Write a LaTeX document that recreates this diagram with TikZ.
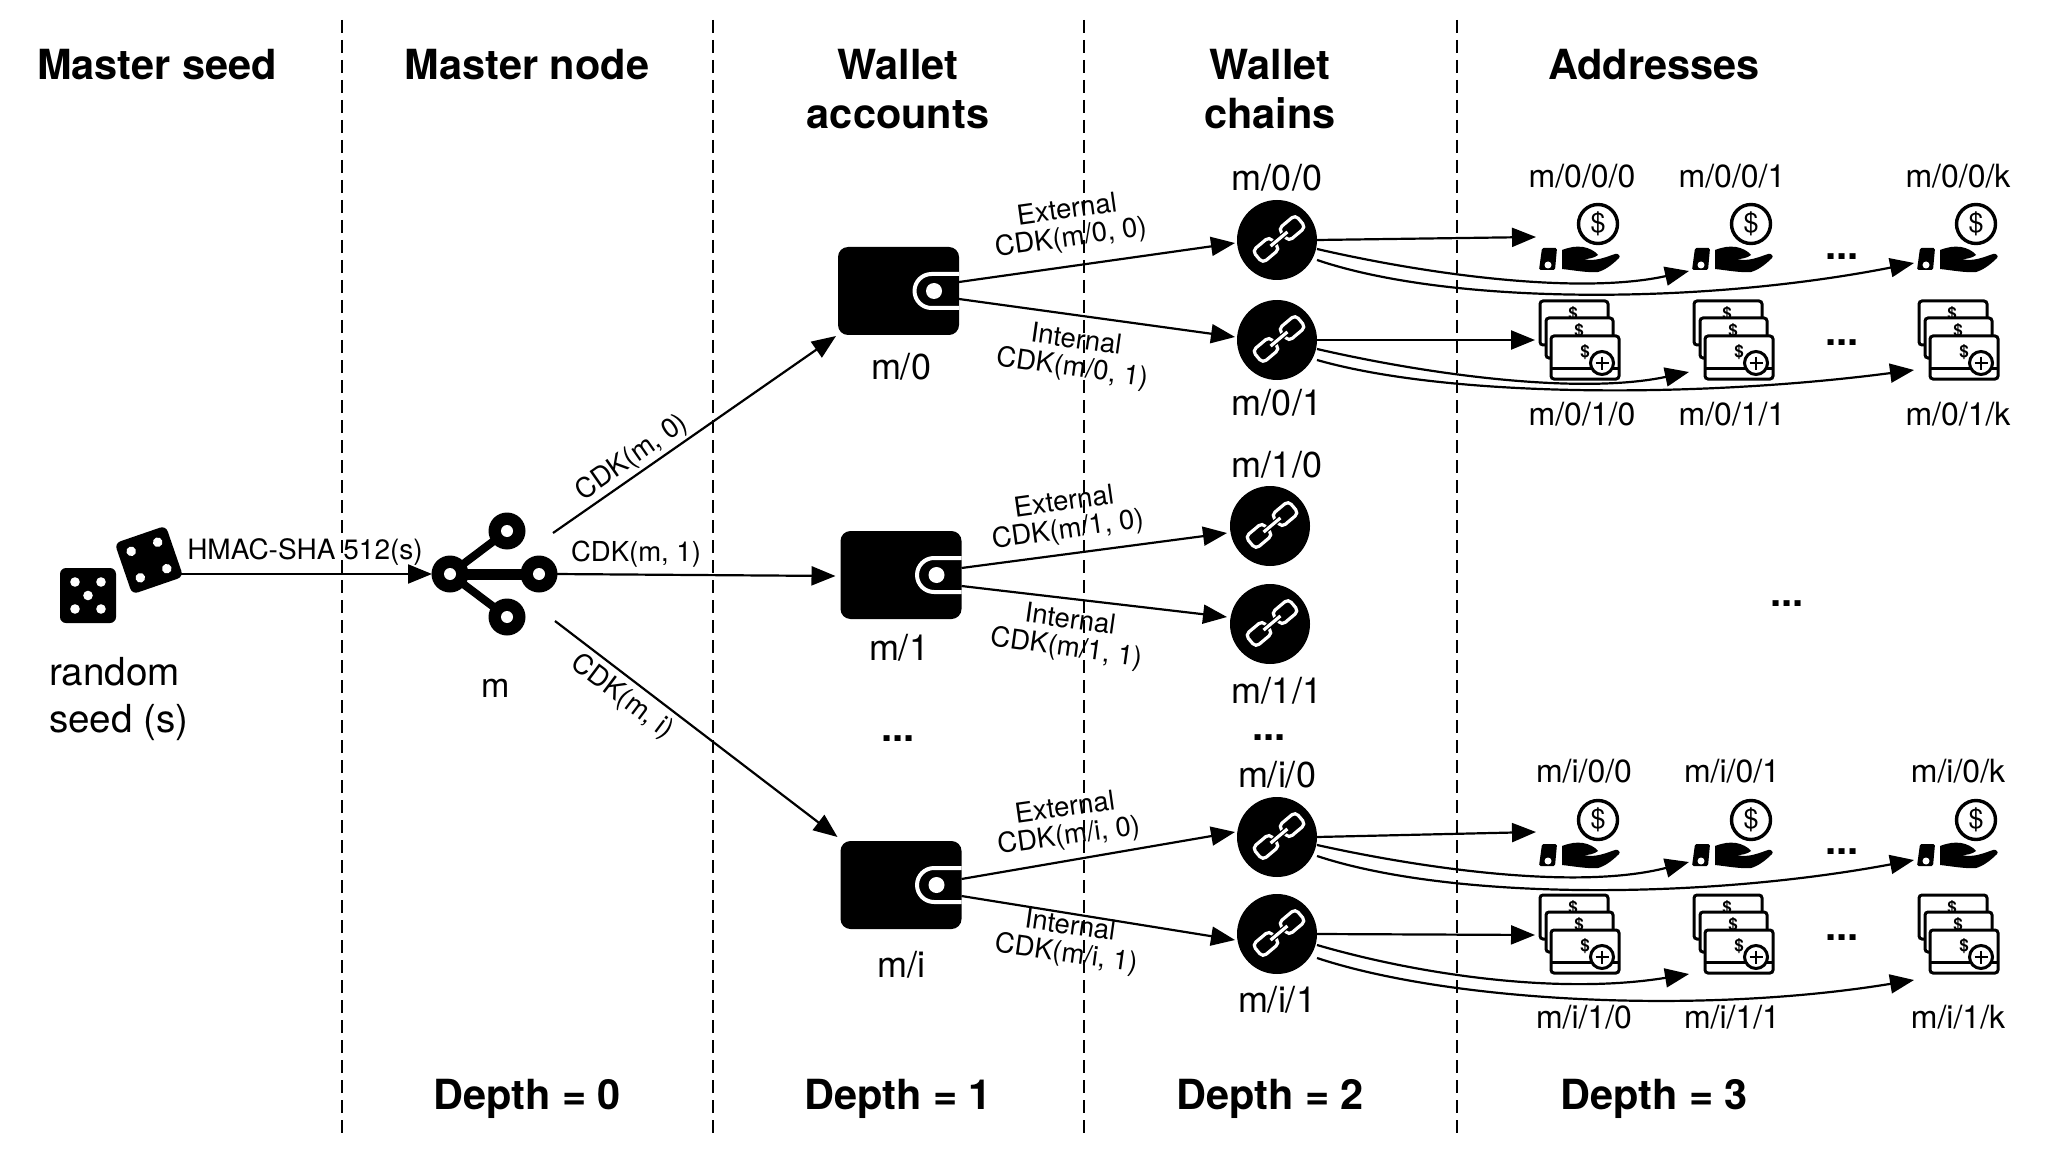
\documentclass[tikz,border=0pt]{standalone}
\usepackage{fontspec}
\setmainfont{TeX Gyre Heros}
\usetikzlibrary{arrows.meta}
\tikzset{
  x=1pt, y=-1pt,
  every node/.style={inner sep=0pt, outer sep=0pt},
  head/.style={font=\bfseries\fontsize{41.5}{49}\selectfont, align=center},
  big/.style={font=\fontsize{36}{47}\selectfont, align=left},
  addr/.style={font=\fontsize{32}{37}\selectfont},
  small/.style={font=\fontsize{27.5}{28}\selectfont, align=center},
  hmac/.style={font=\fontsize{28}{34}\selectfont},
  more/.style={font=\bfseries\fontsize{40}{40}\selectfont},
  divider/.style={line width=2.2pt, dash pattern=on 13pt off 7pt},
  conn/.style={line width=2.2pt, -{Triangle[length=24pt,width=19pt]}},
  chainnode/.style={circle, fill=black, minimum size=80pt},
  walletnode/.style={rectangle, minimum width=121pt, minimum height=88pt},
  handbox/.style={rectangle, minimum width=88pt, minimum height=70pt},
  billbox/.style={rectangle, minimum width=88pt, minimum height=80pt},
  linkicon/.pic={
    \begin{scope}[shift={(2,-1)}, rotate=40, line width=3.2pt, draw=white, rounded corners=4.5pt]
      \draw (-6,-3) -- (-6,-8) -- (-28,-8) -- (-28,8) -- (-6,8) -- (-6,3);
      \draw (6,-3) -- (6,-8) -- (28,-8) -- (28,8) -- (6,8) -- (6,3);
      \draw[rounded corners=0pt] (-11,0) -- (11,0);
    \end{scope}
  },
  walleticon/.pic={
    \fill[rounded corners=10pt] (-60.5,-44) rectangle (60.5,44);
    \draw[white, line width=4pt, rounded corners=17pt] (60.5,-17) -- (16,-17) -- (16,17) -- (60.5,17);
    \fill[white] (35.5,0) circle (8);
  },
  handicon/.pic={
    \draw[line width=3.4pt] (18,-13) circle (19.5);
    \node[font=\fontsize{27}{27}\selectfont] (-d) at (18,-13) {\$};
    \fill[rounded corners=1.5pt] (-38,11) -- (-23,11) -- (-25,33) -- (-41,33) -- cycle;
    \fill[white] (-32,28) circle (3.5);
    \fill (-18,13) .. controls (-10,10) and (-4,9) .. (3,10)
      .. controls (9,11) and (15,14) .. (18,18)
      .. controls (14,21) and (9,22) .. (4,22)
      .. controls (15,25) and (26,20) .. (35,17)
      .. controls (38,16) and (41,19) .. (39,21)
      .. controls (32,28) and (25,33) .. (18,35)
      .. controls (8,36) and (-8,33) .. (-18,32) -- cycle;
  },
  billicon/.pic={
    \begin{scope}[line width=3pt, fill=white, draw=black]
      \filldraw[rounded corners=3pt] (-39,-39) rectangle (29,5);
      \node[font=\bfseries\fontsize{17}{17}\selectfont] (-a) at (-6,-26) {\$};
      \filldraw[rounded corners=3pt] (-33,-22) rectangle (34,18);
      \node[font=\bfseries\fontsize{17}{17}\selectfont] (-b) at (0,-9) {\$};
      \filldraw[rounded corners=3pt] (-28,-4) rectangle (40,39);
      \draw (-28,28) -- (40,28);
      \node[font=\bfseries\fontsize{17}{17}\selectfont] (-c) at (6,12) {\$};
      \filldraw (23,23) circle (11.5);
      \draw[line width=2.6pt] (16.5,23) -- (29.5,23) (23,16.5) -- (23,29.5);
    \end{scope}
  },
  hubicon/.pic={
    \draw[line width=11pt] (450,574) -- (539,574);
    \draw[line width=8pt] (507,531) -- (450,574) -- (507,617);
    \foreach \cx/\cy in {450/574,539/574,507/531,507/617}{
      \fill (\cx,\cy) circle (18.5);
      \fill[white] (\cx,\cy) circle (6);
    }
  },
  diceicon/.pic={
    \fill[rounded corners=6pt] (60,568) rectangle (116,623);
    \foreach \px/\py in {75/582,101/582,88/595.5,75/609,101/609}
      \fill[white] (\px,\py) circle (4.8);
    \begin{scope}[shift={(149,560)}, rotate=19]
      \fill[rounded corners=6pt] (-27,-27) rectangle (27,27);
      \foreach \px/\py in {-14/-14,14/-14,-14/14,14/14}
        \fill[white] (\px,\py) circle (4.8);
    \end{scope}
  }
}
\begin{document}
\begin{tikzpicture}
\useasboundingbox[fill=white] (0,0) rectangle (2047,1155);

% column dividers
\foreach \n/\x in {d1/342,d2/713,d3/1084,d4/1457}{
  \coordinate (\n t) at (\x,20);
  \coordinate (\n b) at (\x,1133);
  \draw[divider] (\n t) -- (\n b);
}

% column headings
\node[head] (hseed) at (157,65) {Master seed};
\node[head] (hnode) at (527,65) {Master node};
\node[head] (hacc) at (898,89) {Wallet\\accounts};
\node[head] (hchain) at (1270,89) {Wallet\\chains};
\node[head] (haddr) at (1654,65) {Addresses};

% depth captions
\node[head] (depth0) at (527,1099) {Depth = 0};
\node[head] (depth1) at (898,1099) {Depth = 1};
\node[head] (depth2) at (1270,1099) {Depth = 2};
\node[head] (depth3) at (1654,1099) {Depth = 3};

% seed and master node
\node[rectangle, minimum width=122pt, minimum height=100pt] (seed) at (120,574) {};
\pic (dice) at (0,0) {diceicon};
\node[rectangle, minimum width=122pt, minimum height=90pt] (master) at (493,574) {};
\pic (hub) at (0,0) {hubicon};
\node[big, font=\fontsize{38.6}{47}\selectfont, anchor=north west] (seedtxt) at (49,657) {random\\seed (s)};
\node[big, font=\fontsize{34}{40}\selectfont] (mtxt) at (496,688) {m};

% wallet accounts
\foreach \n/\x/\y/\t/\lx/\ly in {w0/898.5/291/m\slash 0/901/367, w1/901/575/m\slash 1/899/647.5, wi/901/885/m\slash i/901/965}{
  \node[walletnode] (\n) at (\x,\y) {};
  \pic (\n i) at (\n) {walleticon};
  \node[big] (\n t) at (\lx,\ly) {\t};
}

% wallet chains
\foreach \n/\x/\y/\t/\ly in {c00/1277/240/m\slash 0\slash 0/177.5, c01/1277/340/m\slash 0\slash 1/403,
    c10/1270/526/m\slash 1\slash 0/465, c11/1270/624/m\slash 1\slash 1/690.5,
    ci0/1277/837/m\slash i\slash 0/775, ci1/1277/934/m\slash i\slash 1/1000}{
  \node[chainnode] (\n) at (\x,\y) {};
  \pic (\n i) at (\n) {linkicon};
  \node[big] (\n t) at (1277,\ly) {\t};
}

% receiving addresses
\foreach \n/\x/\y/\t/\lx/\ly in {
    a000/1580/237/m\slash 0\slash 0\slash 0/1582/176, a001/1733/237/m\slash 0\slash 0\slash 1/1732/176, a00k/1958/237/m\slash 0\slash 0\slash k/1958/176,
    ai00/1580/833/m\slash i\slash 0\slash 0/1584/771.5, ai01/1733/833/m\slash i\slash 0\slash 1/1732/771.5, ai0k/1958/833/m\slash i\slash 0\slash k/1958/771.5}{
  \node[handbox] (\n) at (\x,\y) {};
  \pic (\n i) at (\n) {handicon};
  \node[addr] (\n t) at (\lx,\ly) {\t};
}

% change addresses
\foreach \n/\x/\y/\t/\lx/\ly in {
    a010/1579/340/m\slash 0\slash 1\slash 0/1582/414, a011/1733/340/m\slash 0\slash 1\slash 1/1732/414, a01k/1958/340/m\slash 0\slash 1\slash k/1958/414,
    ai10/1579/934/m\slash i\slash 1\slash 0/1584/1017, ai11/1733/934/m\slash i\slash 1\slash 1/1732/1017, ai1k/1958/934/m\slash i\slash 1\slash k/1958/1017}{
  \node[billbox] (\n) at (\x,\y) {};
  \pic (\n i) at (\n) {billicon};
  \node[addr] (\n t) at (\lx,\ly) {\t};
}

% elided entries
\foreach \n/\x/\y in {m1/1842/257, m2/1842/343, m3/1787/604, m4/1842/852, m5/1842/938, m6/898/739, m7/1269/738}
  \node[more] (\n) at (\x,\y) {...};

% master seed to master node
\draw[conn] (seed.east) -- (master.west);
\node[hmac] (hmaclbl) at (305,552) {HMAC-SHA 512(s)};

% master node to accounts
\coordinate (hubA) at (553,533);
\coordinate (hubC) at (555,621);
\draw[conn] (hubA) -- ([xshift=-2pt,yshift=-1pt]w0.south west);
\draw[conn] (master.east) -- ([xshift=-5pt,yshift=-1pt]w1.west);
\draw[conn] (hubC) -- ([xshift=-3pt,yshift=48pt]wi.west);
\node[small, rotate=35] (l0) at (632,458) {CDK(m, 0)};
\node[small] (l1) at (636,554) {CDK(m, 1)};
\node[small, rotate=-37] (li) at (622,697) {CDK(m, i)};

% accounts to chains
\draw[conn] ([yshift=9pt]w0.east) -- ([xshift=-2pt,yshift=-3pt]c00.west);
\draw[conn] ([yshift=-8pt]w0.east) -- ([xshift=-2pt,yshift=3pt]c01.west);
\draw[conn] ([yshift=7pt]w1.east) -- ([xshift=-3pt,yshift=-7pt]c10.west);
\draw[conn] ([yshift=-11pt]w1.east) -- ([xshift=-3pt,yshift=7pt]c11.west);
\draw[conn] ([yshift=6pt]wi.east) -- ([xshift=-2pt,yshift=5pt]ci0.west);
\draw[conn] ([yshift=-11pt]wi.east) -- ([xshift=-2pt,yshift=-6pt]ci1.west);
\node[small, rotate=8] (e0) at (1069,225) {External\\CDK(m/0, 0)};
\node[small, rotate=-8] (n0) at (1074,355) {Internal\\CDK(m/0, 1)};
\node[small, rotate=8] (e1) at (1066,517) {External\\CDK(m/1, 0)};
\node[small, rotate=-8] (n1) at (1068,635) {Internal\\CDK(m/1, 1)};
\node[small, rotate=8] (ei) at (1067,823) {External\\CDK(m/i, 0)};
\node[small, rotate=-8] (ni) at (1068,941) {Internal\\CDK(m/i, 1)};

% chains to addresses
\draw[conn] (c00.east) -- (a000.west);
\draw[conn] ([yshift=-9pt]c00.east) .. controls (1430,275) and (1580,295) .. ([yshift=-34pt]a001.west);
\draw[conn] ([yshift=-20pt]c00.east) .. controls (1450,305) and (1700,305) .. ([yshift=-26pt]a00k.west);
\draw[conn] (c01.east) -- (a010.west);
\draw[conn] ([yshift=-9pt]c01.east) .. controls (1430,375) and (1580,395) .. ([yshift=-32pt]a011.west);
\draw[conn] ([yshift=-20pt]c01.east) .. controls (1450,398) and (1700,398) .. ([yshift=-30pt]a01k.west);
\draw[conn] (ci0.east) -- ([yshift=1pt]ai00.west);
\draw[conn] ([yshift=-8pt]ci0.east) .. controls (1430,870) and (1580,890) .. ([yshift=-29pt]ai01.west);
\draw[conn] ([yshift=-19pt]ci0.east) .. controls (1450,900) and (1700,900) .. ([yshift=-27pt]ai0k.west);
\draw[conn] (ci1.east) -- ([yshift=-1pt]ai10.west);
\draw[conn] ([yshift=-11pt]ci1.east) .. controls (1420,975) and (1560,995) .. ([yshift=-40pt]ai11.west);
\draw[conn] ([yshift=-24pt]ci1.east) .. controls (1450,1002) and (1700,1015) .. ([yshift=-46pt]ai1k.west);
\end{tikzpicture}
\end{document}
